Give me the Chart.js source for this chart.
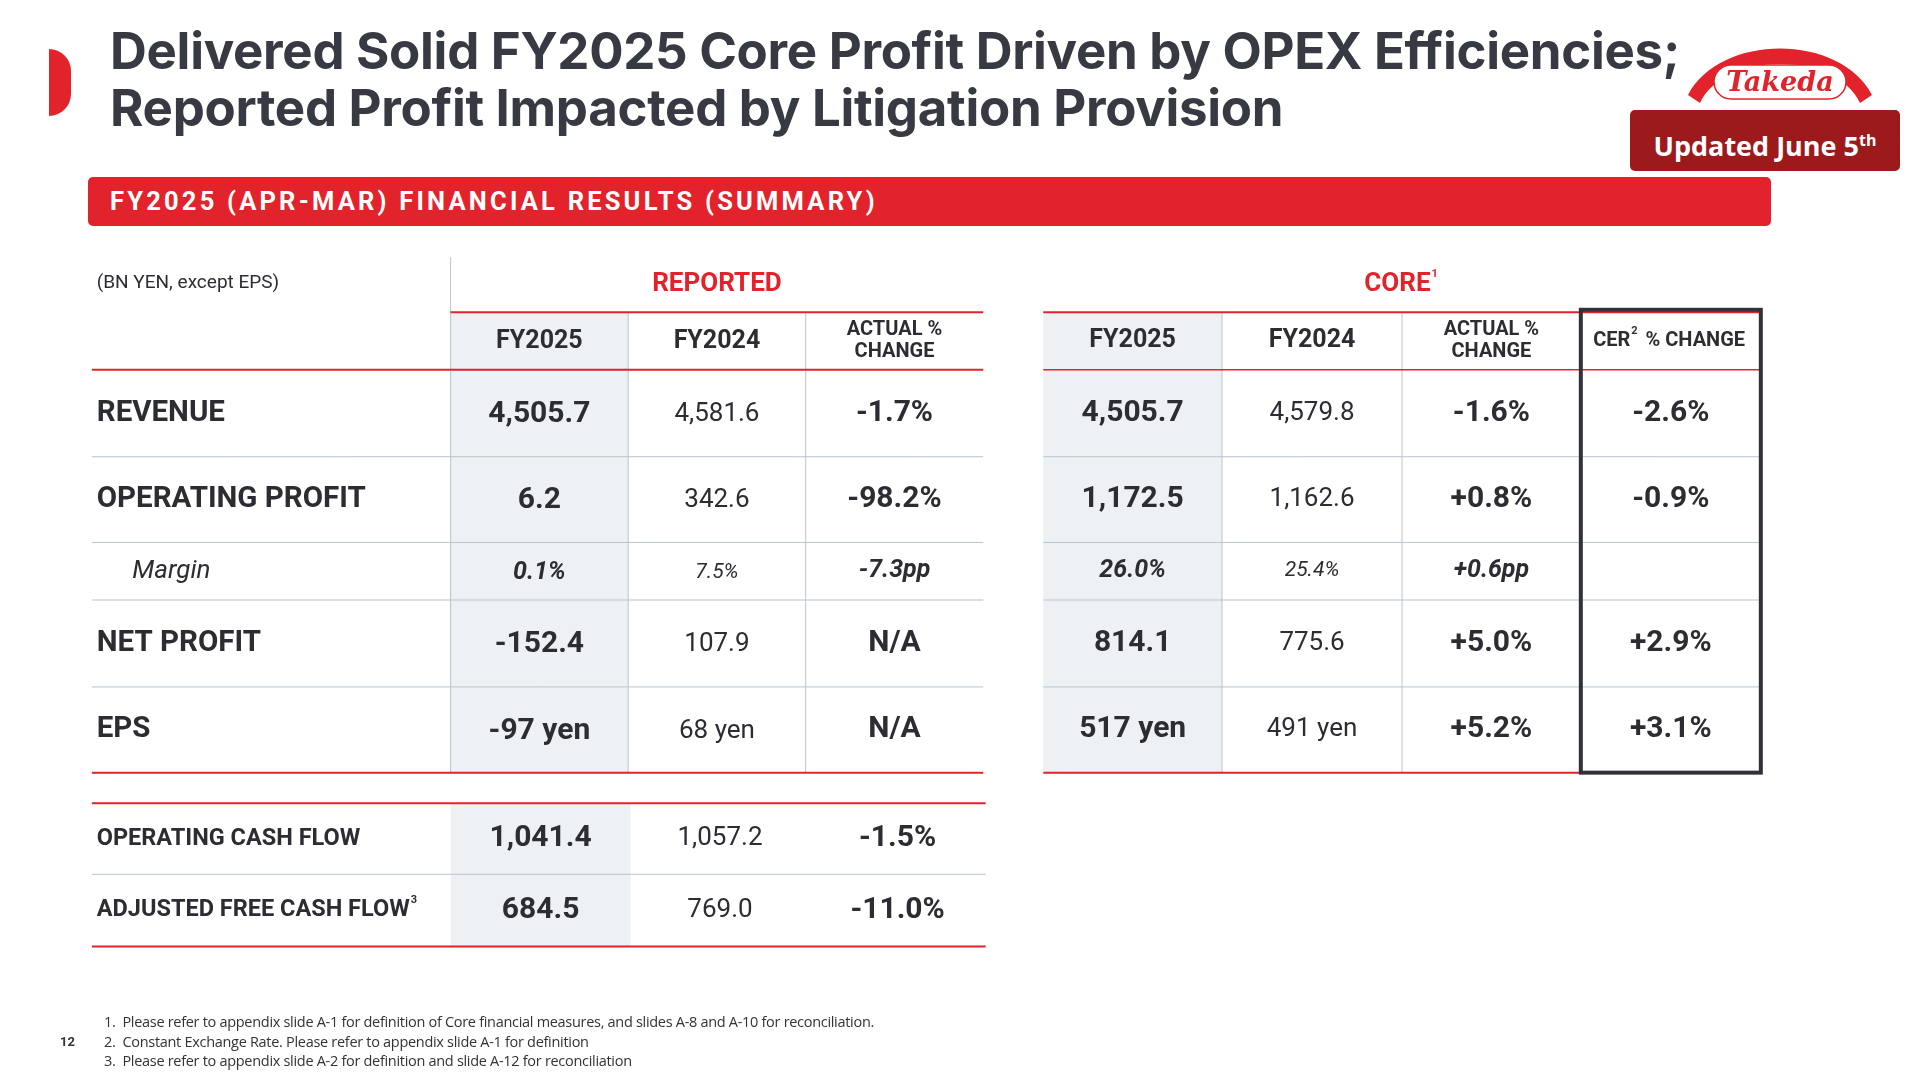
<!DOCTYPE html>
<html>
<head>
<meta charset="utf-8">
<script src="https://cdn.jsdelivr.net/npm/chart.js@4.4.1/dist/chart.umd.min.js"></script>
<style>
  body { margin:0; width:1920px; height:1080px; overflow:hidden; background:#fff; font-family:Roboto, Inter, sans-serif; position:relative; }
  #tbl { position:absolute; left:0; top:0; }
  .abs { position:absolute; }
  #mark { left:49px; top:49px; width:22px; height:67px; background:#e3232b; border-radius:0 34px 34px 0; }
  #title { left:110px; top:22px; font-family:Inter, sans-serif; font-weight:700; font-size:51px; line-height:57px; color:#373a42; letter-spacing:-0.3px; white-space:nowrap; }
  #upd { left:1630px; top:110px; width:270px; height:61px; background:#9c1a1c; border-radius:5px; color:#fff; font-family:"Open Sans", sans-serif; font-weight:700; font-size:27px; line-height:61px; text-align:center; }
  #upd sup { font-size:16px; }
  #banner { left:88px; top:177px; width:1683px; height:49px; background:#e3232b; border-radius:5px; color:#fff; font-weight:700; font-size:25.5px; line-height:49px; letter-spacing:3.2px; padding-left:22px; box-sizing:border-box; }
  #notes { left:104px; top:1012px; font-size:14.5px; line-height:19.5px; color:#333; font-family:"Open Sans", sans-serif; letter-spacing:-0.3px; }
  #page { left:60px; top:1034px; font-size:13px; font-weight:700; color:#333; }
</style>
</head>
<body>
<canvas id="tbl" width="1920" height="1080"></canvas>
<div id="mark" class="abs"></div>
<div id="title" class="abs">Delivered Solid FY2025 Core Profit Driven by OPEX Efficiencies;<br>Reported Profit Impacted by Litigation Provision</div>
<svg class="abs" style="left:1680px;top:35px" width="200" height="80" viewBox="0 0 200 80">
  <path d="M8 60 C40 -2 160 -2 192 60 L180 68 C156 16 44 16 20 68 Z" fill="#e3232b"/>
  <rect x="34" y="30" width="132" height="34" rx="17" fill="#fff" stroke="#e3232b" stroke-width="1.5"/>
  <text x="100" y="56" text-anchor="middle" font-family="DejaVu Serif, serif" font-style="italic" font-weight="700" font-size="27" fill="#e3232b">Takeda</text>
</svg>
<div id="upd" class="abs">Updated June 5<sup>th</sup></div>
<div id="banner" class="abs">FY2025 (APR-MAR) FINANCIAL RESULTS (SUMMARY)</div>
<div id="page" class="abs">12</div>
<div id="notes" class="abs">
  1.&nbsp; Please refer to appendix slide A-1 for definition of Core financial measures, and slides A-8 and A-10 for reconciliation.<br>
  2.&nbsp; Constant Exchange Rate. Please refer to appendix slide A-1 for definition<br>
  3.&nbsp; Please refer to appendix slide A-2 for definition and slide A-12 for reconciliation
</div>
<script>
// Table data
const rowLabels = ['REVENUE', 'OPERATING PROFIT', 'Margin', 'NET PROFIT', 'EPS'];
const repFY25 = ['4,505.7', '6.2', '0.1%', '-152.4', '-97 yen'];
const repFY24 = ['4,581.6', '342.6', '7.5%', '107.9', '68 yen'];
const repChg = ['-1.7%', '-98.2%', '-7.3pp', 'N/A', 'N/A'];
const coreFY25 = ['4,505.7', '1,172.5', '26.0%', '814.1', '517 yen'];
const coreFY24 = ['4,579.8', '1,162.6', '25.4%', '775.6', '491 yen'];
const coreChg = ['-1.6%', '+0.8%', '+0.6pp', '+5.0%', '+5.2%'];
const cerChg = ['-2.6%', '-0.9%', '', '+2.9%', '+3.1%'];
const cashLabels = ['OPERATING CASH FLOW', 'ADJUSTED FREE CASH FLOW'];
const cashFY25 = ['1,041.4', '684.5'];
const cashFY24 = ['1,057.2', '769.0'];
const cashChg = ['-1.5%', '-11.0%'];

// Layout (slide units)
const leftCols = [75, 368, 513, 658, 803];
const rightCols = [852, 998, 1145, 1291, 1438];
const rowEdges = [302, 373, 443, 490, 561, 631];
const headTop = 255;
const cashEdges = [656, 714, 773];
const cashCols = [75, 368, 515, 661, 805];

const RED = '#e3232b', GRID = '#b9c3cd', SHADE = '#edf1f4', INK = '#2b2d33';

const tablePlugin = {
  id: 'tablePlugin',
  afterDraw(chart) {
    const c = chart.ctx, X = v => chart.scales.x.getPixelForValue(v), Y = v => chart.scales.y.getPixelForValue(v);
    const rect = (x0, y0, x1, y1, col) => { c.fillStyle = col; c.fillRect(X(x0), Y(y0), X(x1) - X(x0), Y(y1) - Y(y0)); };
    const hl = (x0, x1, y, col, w) => { c.strokeStyle = col; c.lineWidth = w; c.beginPath(); c.moveTo(X(x0), Y(y)); c.lineTo(X(x1), Y(y)); c.stroke(); };
    const vl = (x, y0, y1, col, w) => { c.strokeStyle = col; c.lineWidth = w; c.beginPath(); c.moveTo(X(x), Y(y0)); c.lineTo(X(x), Y(y1)); c.stroke(); };
    const txt = (s, x, y, font, col, align, sup) => {
      c.font = font; c.fillStyle = col; c.textAlign = align || 'center'; c.textBaseline = 'middle';
      let px = X(x);
      if (sup && align !== 'left') px -= 4;
      c.fillText(s, px, Y(y));
      if (sup) {
        const w = c.measureText(s).width;
        const end = (align === 'left') ? px + w : px + w / 2;
        c.font = '700 11px Roboto'; c.textAlign = 'left';
        c.fillText(sup, end + 1, Y(y) - 10);
      }
    };
    const mid = (a, i) => (a[i] + a[i + 1]) / 2;

    // shading
    rect(leftCols[1], headTop, leftCols[2], rowEdges[5], SHADE);
    rect(rightCols[0], headTop, rightCols[1], rowEdges[5], SHADE);
    rect(cashCols[1], cashEdges[0], cashCols[2], cashEdges[2], SHADE);

    // vertical grid
    vl(leftCols[1], 210, rowEdges[5], GRID, 1);
    [2, 3].forEach(i => vl(leftCols[i], headTop, rowEdges[5], GRID, 1));
    [1, 2, 3].forEach(i => vl(rightCols[i], headTop, rowEdges[5], GRID, 1));

    // horizontal grid
    [1, 2, 3, 4].forEach(i => { hl(leftCols[0], leftCols[4], rowEdges[i], GRID, 1); hl(rightCols[0], rightCols[4], rowEdges[i], GRID, 1); });
    hl(cashCols[0], cashCols[4], cashEdges[1], GRID, 1);
    hl(leftCols[1], leftCols[4], headTop, RED, 2);
    hl(rightCols[0], rightCols[4], headTop, RED, 2);
    hl(leftCols[0], leftCols[4], rowEdges[0], RED, 2);
    hl(rightCols[0], rightCols[4], rowEdges[0], RED, 1.5);
    hl(leftCols[0], leftCols[4], rowEdges[5], RED, 2);
    hl(rightCols[0], rightCols[4], rowEdges[5], RED, 2);
    hl(cashCols[0], cashCols[4], cashEdges[0], RED, 2);
    hl(cashCols[0], cashCols[4], cashEdges[2], RED, 2);

    // CER box
    c.strokeStyle = '#2f3238'; c.lineWidth = 4;
    c.strokeRect(X(rightCols[3]), Y(253), X(rightCols[4]) - X(rightCols[3]), Y(rowEdges[5]) - Y(253));

    // headers
    txt('(BN YEN, except EPS)', 79, 231, '400 19px Roboto', INK, 'left');
    txt('REPORTED', mid(leftCols, 2), 232, '700 26px Roboto', RED);
    txt('CORE', mid(rightCols, 1) + 73, 232, '700 26px Roboto', RED, 'center', '1');
    const hy = (headTop + rowEdges[0]) / 2;
    txt('FY2025', mid(leftCols, 1), hy + 1, '700 25px Roboto', INK);
    txt('FY2025', mid(rightCols, 0), hy, '700 25px Roboto', INK);
    txt('FY2024', mid(leftCols, 2), hy + 1, '700 25px Roboto', INK);
    txt('FY2024', mid(rightCols, 1), hy, '700 25px Roboto', INK);
    [[leftCols, 3], [rightCols, 2]].forEach(([cols, k]) => {
      txt('ACTUAL %', mid(cols, k), hy - 9, '700 20px Roboto', INK);
      txt('CHANGE', mid(cols, k), hy + 9, '700 20px Roboto', INK);
    });
    txt('CER', mid(rightCols, 3) - 45, hy, '700 20px Roboto', INK, 'center', '2');
    txt('% CHANGE', mid(rightCols, 3) + 20, hy, '700 20px Roboto', INK);

    // body rows
    rowLabels.forEach((lab, i) => {
      const y = mid(rowEdges, i);
      const it = lab === 'Margin';
      const B = it ? 'italic 700 25px Roboto' : '700 30px Roboto';
      const N = it ? 'italic 400 21px Roboto' : '400 26px Roboto';
      txt(lab, it ? 108 : 79, y, it ? 'italic 400 26px Roboto' : '700 29.5px Roboto', INK, 'left');
      txt(repFY25[i], mid(leftCols, 1), y + 1, B, INK);
      txt(repFY24[i], mid(leftCols, 2), y + 1, N, INK);
      txt(repChg[i], mid(leftCols, 3), y, B, INK);
      txt(coreFY25[i], mid(rightCols, 0), y, B, INK);
      txt(coreFY24[i], mid(rightCols, 1), y, N, INK);
      txt(coreChg[i], mid(rightCols, 2), y, B, INK);
      txt(cerChg[i], mid(rightCols, 3), y, B, INK);
    });

    // cash flow rows
    cashLabels.forEach((lab, i) => {
      const y = mid(cashEdges, i);
      txt(lab, 79, y, '700 23.5px Roboto', INK, 'left', i === 1 ? '3' : '');
      txt(cashFY25[i], mid(cashCols, 1), y, '700 30px Roboto', INK);
      txt(cashFY24[i], mid(cashCols, 2), y, '400 26px Roboto', INK);
      txt(cashChg[i], mid(cashCols, 3), y, '700 30px Roboto', INK);
    });
  }
};

new Chart(document.getElementById('tbl'), {
  type: 'scatter',
  data: { datasets: [{ data: [] }] },
  options: {
    responsive: false, animation: false, devicePixelRatio: 1,
    layout: { padding: 0 },
    plugins: { legend: { display: false }, tooltip: { enabled: false } },
    scales: {
      x: { type: 'linear', min: 0, max: 1568, display: false },
      y: { type: 'linear', min: 0, max: 882, reverse: true, display: false }
    }
  },
  plugins: [tablePlugin]
});
</script>
</body>
</html>
